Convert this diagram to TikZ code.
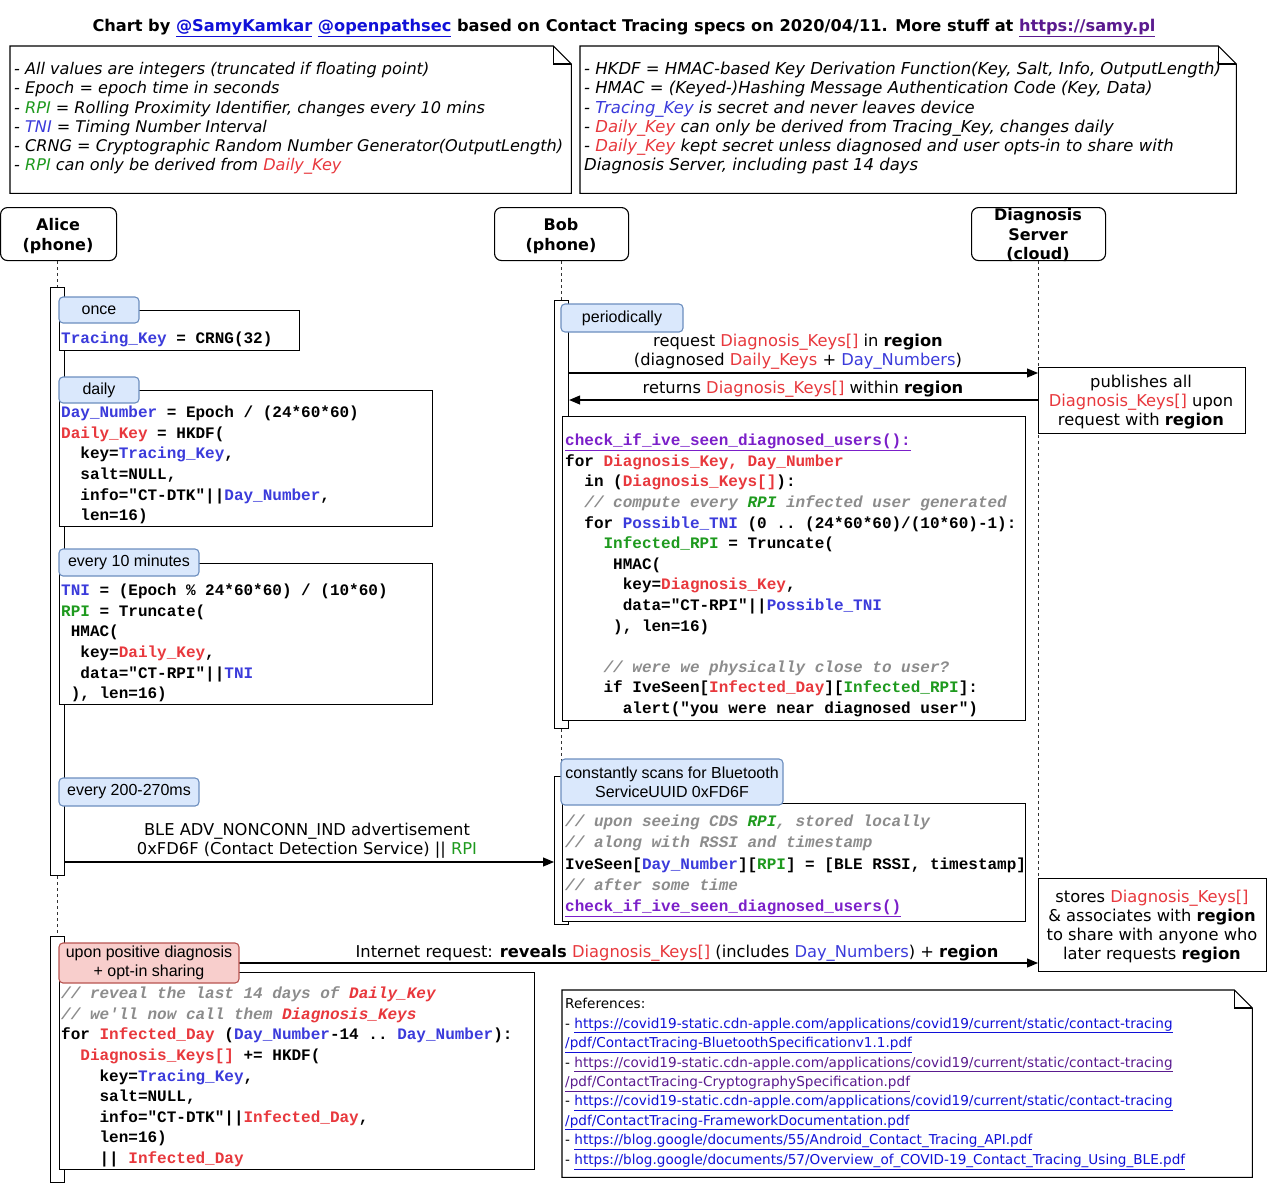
\documentclass[tikz,border=0pt]{standalone}
\usepackage{fontspec}
\setmainfont{DejaVu Sans}
\setmonofont{Liberation Mono}
\newfontfamily\arialfam{Liberation Sans}
\usetikzlibrary{arrows.meta}
\definecolor{kred}{HTML}{E8383D}
\definecolor{kblue}{HTML}{3B3BDB}
\definecolor{kgreen}{HTML}{1E9A1E}
\definecolor{kgray}{HTML}{8C8C8C}
\definecolor{kpurple}{HTML}{7B1FC9}
\definecolor{lnkblue}{HTML}{1010D8}
\definecolor{lnkpurple}{HTML}{5A1A8F}
\definecolor{tabfill}{HTML}{DAE8FC}
\definecolor{tabdraw}{HTML}{6C8EBF}
\definecolor{pinkfill}{HTML}{F8CECC}
\definecolor{pinkdraw}{HTML}{B85450}
\definecolor{lineblack}{HTML}{333333}
\newcommand\cR[1]{\textcolor{kred}{#1}}
\newcommand\cB[1]{\textcolor{kblue}{#1}}
\newcommand\cG[1]{\textcolor{kgreen}{#1}}
\newcommand\cP[1]{\textcolor{kpurple}{\underline{#1}}}
\newcommand\cC[1]{{\color{kgray}\itshape #1}}
\newlength\chw \setlength\chw{9.6pt}
\newcommand\myind[1]{\hspace*{#1\chw}}
\newcommand\lnk[1]{\textcolor{lnkblue}{\underline{#1}}}
\newcommand\lnkp[1]{\textcolor{lnkpurple}{\underline{#1}}}
\newcommand\fcode{\ttfamily\bfseries\fontsize{16}{20.6}\selectfont}
\newcommand\fcodeb{\ttfamily\bfseries\fontsize{16}{21.2}\selectfont}
\newcommand\fnote{\itshape\fontsize{16.1}{19.2}\selectfont}
\newcommand\fnoteb{\itshape\fontsize{16.45}{19.2}\selectfont}
\newcommand\flbl{\fontsize{16.3}{19}\selectfont}
\newcommand\ftab{\arialfam\fontsize{16}{19}\selectfont}
\newcommand\fact{\bfseries\fontsize{16}{19.5}\selectfont}
\newcommand\fref{\fontsize{13.6}{19.4}\selectfont}
\newcommand\ftitle{\bfseries\fontsize{16.2}{19}\selectfont}
\newcommand\notepath[1]{%
  \filldraw[boxline, fill=white] (#1.north west) -- ([xshift=-18pt]#1.north east) -- ([yshift=-18pt]#1.north east) -- (#1.south east) -- (#1.south west) -- cycle;
  \draw[boxline] ([xshift=-18pt]#1.north east) -- ([xshift=-18pt,yshift=-18pt]#1.north east) -- ([yshift=-18pt]#1.north east);}
\tikzset{
  boxline/.style={draw=black, line width=1.1pt},
  actorbox/.style={boxline, fill=white, rounded corners=7pt, anchor=north west, inner sep=0},
  barbox/.style={boxline, fill=white, anchor=north west, inner sep=0},
  framebox/.style={boxline, fill=white, anchor=north west, inner sep=0},
  tabblue/.style={draw=tabdraw, fill=tabfill, line width=1.1pt, rounded corners=4pt, font=\ftab, align=center, inner sep=0},
  tabpink/.style={draw=pinkdraw, fill=pinkfill, line width=1.1pt, rounded corners=4pt, font=\ftab, align=center, inner sep=0},
  lifeline/.style={line width=1pt, dash pattern=on 3pt off 3pt, draw=lineblack},
  msg/.style={line width=1.1pt, -{Triangle[length=11pt,width=9pt]}},
  codetxt/.style={font=\fcode, align=left, anchor=north west, inner sep=0},
  notetxt/.style={font=\fnote, align=left, anchor=north west, inner sep=0},
  lbltxt/.style={font=\flbl, align=center, anchor=north, inner sep=0},
  acttxt/.style={font=\fact, align=center, anchor=north, inner sep=0},
  plain/.style={anchor=north west, inner sep=0, draw=none},
}
\begin{document}
\begin{tikzpicture}[x=1pt,y=-1pt]
\useasboundingbox (0,0) rectangle (1280,1197);
\fill[white] (0,0) rectangle (1280,1197);

% title
\node[font=\ftitle, anchor=base, inner sep=0] (title) at (624,31.5) {Chart by \textcolor{lnkblue}{\underline{@SamyKamkar}} \textcolor{lnkblue}{\underline{@openpathsec}} based on Contact Tracing specs on 2020/04/11. More stuff at \textcolor{lnkpurple}{\underline{https://samy.pl}}};

% notes
\node[plain, minimum width=561pt, minimum height=147pt] (note1) at (10,46) {};
\node[plain, minimum width=656pt, minimum height=147pt] (note2) at (580,46) {};
\notepath{note1}
\notepath{note2}
\node[notetxt] (note1t) at (14,61) {\strut - All values are integers (truncated if floating point)\\
- Epoch = epoch time in seconds\\
- \cG{RPI} = Rolling Proximity Identifier, changes every 10 mins\\
- \cB{TNI} = Timing Number Interval\\
- CRNG = Cryptographic Random Number Generator(OutputLength)\\
- \cG{RPI} can only be derived from \cR{Daily\_Key}};
\node[notetxt, font=\fnoteb] (note2t) at (584,61) {\strut - HKDF = HMAC-based Key Derivation Function(Key, Salt, Info, OutputLength)\\
- HMAC = (Keyed-)Hashing Message Authentication Code (Key, Data)\\
- \cB{Tracing\_Key} is secret and never leaves device\\
- \cR{Daily\_Key} can only be derived from Tracing\_Key, changes daily\\
- \cR{Daily\_Key} kept secret unless diagnosed and user opts-in to share with\\
Diagnosis Server, including past 14 days};

% actors
\node[actorbox, minimum width=116pt, minimum height=53pt] (alice) at (0,207) {};
\node[actorbox, minimum width=134pt, minimum height=53pt] (bob) at (494,207) {};
\node[actorbox, minimum width=134pt, minimum height=53pt] (server) at (971,207) {};
\node[acttxt] (alicet) at (58,216.9) {\strut Alice\\(phone)};
\node[acttxt] (bobt) at (561,216.9) {\strut Bob\\(phone)};

% bars and boxes (geometry)
\node[barbox, minimum width=14pt, minimum height=588pt] (abar1) at (50,287) {};
\node[barbox, minimum width=14pt, minimum height=246pt] (abar2) at (50,936) {};
\node[barbox, minimum width=14pt, minimum height=428pt] (bbar1) at (554,300) {};
\node[barbox, minimum width=14pt, minimum height=148pt] (bbar2) at (554,776) {};
\node[plain, minimum width=207pt, minimum height=66pt] (publ) at (1038,367) {};
\node[plain, minimum width=228pt, minimum height=93pt] (stores) at (1038,878) {};

% lifelines
\draw[lifeline] (abar1.north |- alice.south) -- (abar1.north);
\draw[lifeline] (abar1.south) -- (abar2.north);
\draw[lifeline] (bbar1.north |- bob.south) -- (bbar1.north);
\draw[lifeline] (bbar1.south) -- (bbar2.north);
\draw[lifeline] (server.south) -- (server.south |- stores.north);

% messages
\coordinate (y373) at (0,373);
\coordinate (y400) at (0,400);
\coordinate (y862) at (0,862);
\coordinate (y963) at (0,963);
\draw[msg] (bbar1.east |- y373) -- (publ.west |- y373);
\draw[msg] (publ.west |- y400) -- (bbar1.east |- y400);
\draw[msg] (abar1.east |- y862) -- (bbar2.west |- y862);
\draw[msg] (abar2.east |- y963) -- (stores.west |- y963);

% frames
\node[framebox, minimum width=240pt, minimum height=40pt] (oncef) at (59,310) {};
\node[framebox, minimum width=373pt, minimum height=136pt] (dailyf) at (59,390) {};
\node[framebox, minimum width=373pt, minimum height=141pt] (tenf) at (59,563) {};
\node[framebox, minimum width=463pt, minimum height=304pt] (codef) at (562,416) {};
\node[framebox, minimum width=463pt, minimum height=118pt] (btf) at (562,803) {};
\node[framebox, minimum width=475pt, minimum height=197pt] (diagf) at (59,972) {};
\node[framebox, minimum width=207pt, minimum height=66pt] (publb) at (1038,367) {};
\node[framebox, minimum width=228pt, minimum height=93pt] (storesb) at (1038,878) {};

% server label (overflows box)
\node[acttxt] (servert) at (1038,206.9) {\strut Diagnosis\\Server\\(cloud)};

% tabs
\node[tabblue, minimum width=80pt, minimum height=26pt] (tonce) at (99,310) {once};
\node[tabblue, minimum width=80pt, minimum height=26pt] (tdaily) at (99,390) {daily};
\node[tabblue, minimum width=140pt, minimum height=27pt] (tten) at (129,562.5) {every 10 minutes};
\node[tabblue, minimum width=140pt, minimum height=28pt] (ttwo) at (129,792) {every 200-270ms};
\node[tabblue, minimum width=122pt, minimum height=28pt] (tper) at (622,318) {periodically};
\node[tabblue, minimum width=222pt, minimum height=46pt] (tbt) at (672,782) {constantly scans for Bluetooth\\ServiceUUID 0xFD6F};
\node[tabpink, minimum width=180pt, minimum height=40pt] (tpos) at (149,963) {upon positive diagnosis\\+ opt-in sharing};

% code
\node[codetxt] (oncec) at (61,328.6) {\strut\cB{Tracing\_Key} = CRNG(32)};
\node[codetxt] (dailyc) at (61,403.1) {\strut\cB{Day\_Number} = Epoch / (24*60*60)\\
\cR{Daily\_Key} = HKDF(\\
\myind{2}key=\cB{Tracing\_Key},\\
\myind{2}salt=NULL,\\
\myind{2}info="CT-DTK"||\cB{Day\_Number},\\
\myind{2}len=16)};
\node[codetxt] (tenc) at (61,581.1) {\strut\cB{TNI} = (Epoch \% 24*60*60) / (10*60)\\
\cG{RPI} = Truncate(\\
\myind{1}HMAC(\\
\myind{2}key=\cR{Daily\_Key},\\
\myind{2}data="CT-RPI"||\cB{TNI}\\
\myind{1}), len=16)};
\node[codetxt] (codec) at (565,431.1) {\strut\cP{check\_if\_ive\_seen\_diagnosed\_users():}\\
for \cR{Diagnosis\_Key, Day\_Number}\\
\myind{2}in (\cR{Diagnosis\_Keys[]}):\\
\myind{2}\cC{// compute every \cG{RPI} infected user generated}\\
\myind{2}for \cB{Possible\_TNI} (0 .. (24*60*60)/(10*60)-1):\\
\myind{4}\cG{Infected\_RPI} = Truncate(\\
\myind{5}HMAC(\\
\myind{6}key=\cR{Diagnosis\_Key},\\
\myind{6}data="CT-RPI"||\cB{Possible\_TNI}\\
\myind{5}), len=16)\\
\strut\\
\myind{4}\cC{// were we physically close to user?}\\
\myind{4}if IveSeen[\cR{Infected\_Day}][\cG{Infected\_RPI}]:\\
\myind{6}alert("you were near diagnosed user")};
\node[codetxt, font=\fcodeb] (btc) at (565,811.7) {\strut\cC{// upon seeing CDS \cG{RPI}, stored locally}\\
\cC{// along with RSSI and timestamp}\\
IveSeen[\cB{Day\_Number}][\cG{RPI}] = [BLE RSSI, timestamp]\\
\cC{// after some time}\\
\cP{check\_if\_ive\_seen\_diagnosed\_users()}};
\node[codetxt] (diagc) at (61,984.1) {\strut\cC{// reveal the last 14 days of \cR{Daily\_Key}}\\
\cC{// we'll now call them \cR{Diagnosis\_Keys}}\\
for \cR{Infected\_Day} (\cB{Day\_Number}-14 .. \cB{Day\_Number}):\\
\myind{2}\cR{Diagnosis\_Keys[]} += HKDF(\\
\myind{4}key=\cB{Tracing\_Key},\\
\myind{4}salt=NULL,\\
\myind{4}info="CT-DTK"||\cR{Infected\_Day},\\
\myind{4}len=16)\\
\myind{4}|| \cR{Infected\_Day}};

% labels
\node[lbltxt] (reqlbl) at (798,333.3) {\strut request \cR{Diagnosis\_Keys[]} in \textbf{region}\\(diagnosed \cR{Daily\_Keys} + \cB{Day\_Numbers})};
\node[font=\flbl, anchor=base, inner sep=0] (retlbl) at (803,393.5) {returns \cR{Diagnosis\_Keys[]} within \textbf{region}};
\node[lbltxt] (publt) at (1141,374.3) {\strut publishes all\\\cR{Diagnosis\_Keys[]} upon\\request with \textbf{region}};
\node[lbltxt] (blelbl) at (307,822.3) {\strut BLE ADV\_NONCONN\_IND advertisement\\0xFD6F (Contact Detection Service) || \cG{RPI}};
\node[font=\flbl, anchor=base, inner sep=0] (netlbl) at (677,957.5) {Internet request: \textbf{reveals} \cR{Diagnosis\_Keys[]} (includes \cB{Day\_Numbers}) + \textbf{region}};
\node[lbltxt] (storest) at (1152,889.3) {\strut stores \cR{Diagnosis\_Keys[]}\\\& associates with \textbf{region}\\to share with anyone who\\later requests \textbf{region}};

% references
\node[plain, minimum width=690pt, minimum height=187pt] (refs) at (562,990) {};
\notepath{refs}
\node[font=\fref, align=left, anchor=north west, inner sep=0] (refst) at (565,995.1) {\strut References:\\
- \lnk{https://covid19-static.cdn-apple.com/applications/covid19/current/static/contact-tracing}\\
\lnk{/pdf/ContactTracing-BluetoothSpecificationv1.1.pdf}\\
- \lnkp{https://covid19-static.cdn-apple.com/applications/covid19/current/static/contact-tracing}\\
\lnkp{/pdf/ContactTracing-CryptographySpecification.pdf}\\
- \lnk{https://covid19-static.cdn-apple.com/applications/covid19/current/static/contact-tracing}\\
\lnk{/pdf/ContactTracing-FrameworkDocumentation.pdf}\\
- \lnk{https://blog.google/documents/55/Android\_Contact\_Tracing\_API.pdf}\\
- \lnk{https://blog.google/documents/57/Overview\_of\_COVID-19\_Contact\_Tracing\_Using\_BLE.pdf}};
\end{tikzpicture}
\end{document}
